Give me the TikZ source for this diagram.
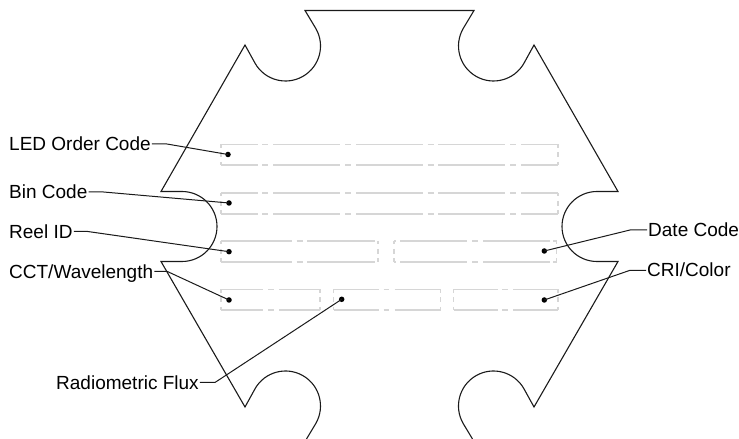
\documentclass[tikz,border=0pt]{standalone}
\usepackage{fontspec}
\setmainfont{Liberation Sans}
\definecolor{outlinecol}{HTML}{1A1A1A}
\definecolor{boxcol}{HTML}{D6D6D6}
\tikzset{
  outline/.style={draw=outlinecol,line width=1.1pt,line join=miter},
  leader/.style={draw=outlinecol,line width=1pt},
  dotmark/.style={circle,fill=black,inner sep=0pt,minimum size=5.5pt},
  lbl/.style={font=\fontsize{19}{21}\selectfont,text=black,inner sep=0pt,text height=13.4pt,text depth=0pt},
  boxline/.style={draw=boxcol,line width=1.1pt},
  rowdash/.style={dash pattern=on 36.7pt off 4.6pt on 6pt off 5pt on 66.7pt off 5pt on 6pt off 5pt on 66.7pt off 5pt on 6pt off 4.6pt on 66.7pt off 5pt on 6pt off 5pt on 40pt}
}
\newcommand{\lotbox}[5]{%
  \draw[boxline,#5] (#1,#2) -- (#3,#2);
  \draw[boxline,#5] (#1,#4) -- (#3,#4);
  \draw[boxline,dash pattern=on 3.5pt off 4.5pt on 5pt off 4.5pt on 6pt] (#1,#2) -- (#1,#4);
  \draw[boxline,dash pattern=on 3.5pt off 4.5pt on 5pt off 4.5pt on 6pt] (#3,#2) -- (#3,#4);
}
\begin{document}
\begin{tikzpicture}[x=1pt,y=1pt]
\useasboundingbox (0,0) rectangle (739,439);
% housing outline
\draw[outline] (306.5,0) -- (315.8,15.5) arc[start angle=-30,end angle=150,radius=35]
  -- (245,32) -- (161,177.5) -- (182,177.5) arc[start angle=-90,end angle=90,radius=35]
  -- (161,247.5) -- (245,394) -- (255.2,375.5) arc[start angle=210,end angle=390,radius=35]
  -- (305,428.5) -- (474,428.5) -- (463.2,410.5) arc[start angle=150,end angle=330,radius=35]
  -- (534,394) -- (618,247.5) -- (597,247.5) arc[start angle=90,end angle=270,radius=35]
  -- (618,177.5) -- (534,32) -- (523.8,50.5) arc[start angle=30,end angle=210,radius=35]
  -- (472.5,0);
% marking fields
\lotbox{221}{294.5}{558}{274}{rowdash}
\lotbox{221}{246}{558}{225}{rowdash}
\lotbox{221}{198}{378}{177}{dash pattern=on 70.5pt off 5pt on 6pt off 4.5pt on 68pt off 3pt on 1pt}
\lotbox{394}{198}{556.5}{177}{dash pattern=on 2pt off 4pt on 66.7pt off 5.3pt on 6pt off 5.3pt on 66.7pt off 3pt on 4pt}
\lotbox{221}{149.5}{320}{129}{dash pattern=on 41.5pt off 5.5pt on 5.5pt off 5.5pt on 41pt}
\lotbox{333.5}{149.5}{440.5}{129}{dash pattern=on 45.5pt off 4.5pt on 5.5pt off 5.5pt on 46pt}
\lotbox{453.5}{149.5}{558}{129}{dash pattern=on 44.2pt off 4.6pt on 5.7pt off 5.3pt on 46pt}
% labels
\node[lbl,anchor=base west] (led) at (9,288.3) {LED Order Code};
\node[lbl,anchor=base west] (bin) at (9,240.3) {Bin Code};
\node[lbl,anchor=base west] (reel) at (9,200.8) {Reel ID};
\node[lbl,anchor=base west] (cct) at (9,160.8) {CCT/Wavelength};
\node[lbl,anchor=base west] (flux) at (56,49.8) {Radiometric Flux};
\node[lbl,anchor=base west] (date) at (648,202.3) {Date Code};
\node[lbl,anchor=base west] (cri) at (647,162) {CRI/Color};
% target dots
\node[dotmark] (dled) at (228,284.5) {};
\node[dotmark] (dbin) at (229,236) {};
\node[dotmark] (dreel) at (229,187.3) {};
\node[dotmark] (dcct) at (229,139) {};
\node[dotmark] (dflux) at (341.7,139.7) {};
\node[dotmark] (ddate) at (544.3,188) {};
\node[dotmark] (dcri) at (544.3,139) {};
% leaders
\draw[leader] (led.east) ++(1,0) -- ++(15,0) -- (dled.center);
\draw[leader] (bin.east) ++(1,0) -- ++(15,0) -- (dbin.center);
\draw[leader] (reel.east) ++(1,0) -- ++(14,0) -- (dreel.center);
\draw[leader] (cct.east) ++(1,0) -- ++(13,0) -- (dcct.center);
\draw[leader] (flux.east) ++(1,0) -- ++(15,0) -- (dflux.center);
\draw[leader] (date.west) ++(-1,0) -- ++(-17,0) -- (ddate.center);
\draw[leader] (cri.west) ++(-1,0) -- ++(-16,0) -- (dcri.center);
\end{tikzpicture}
\end{document}
